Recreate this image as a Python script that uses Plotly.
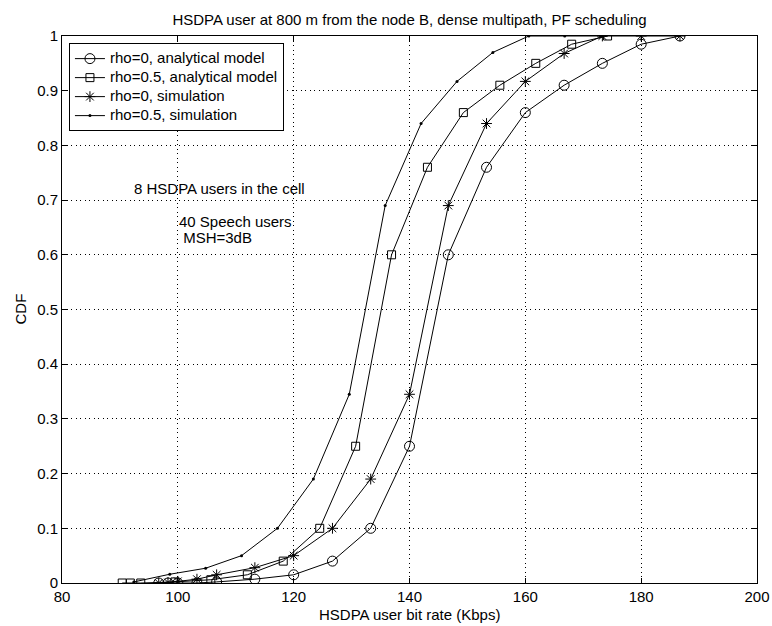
import plotly.graph_objects as go

title_text = "HSDPA user at 800 m from the node B, dense multipath, PF scheduling"
x_title = "HSDPA user bit rate (Kbps)"
y_title = "CDF"

# rho=0, analytical model (circles)
x_an0 = [96.7, 98.3, 100.0, 103.3, 106.7, 113.3, 120.0, 126.7, 133.3, 140.0, 146.7, 153.3, 160.0, 166.7, 173.3, 180.0, 186.7]
y_an0 = [0.0, 0.0, 0.0, 0.0, 0.002, 0.007, 0.015, 0.04, 0.10, 0.25, 0.60, 0.76, 0.86, 0.91, 0.95, 0.985, 1.0]

# rho=0.5, analytical model (squares)
x_an5 = [90.4, 91.8, 93.6, 99.5, 105.7, 112.0, 118.2, 124.5, 130.7, 136.9, 143.1, 149.3, 155.6, 161.8, 168.0, 174.2]
y_an5 = [0.0, 0.0, 0.0, 0.002, 0.006, 0.015, 0.04, 0.10, 0.25, 0.60, 0.76, 0.86, 0.91, 0.95, 0.985, 1.0]

# rho=0, simulation (asterisks)
x_sim0 = [96.7, 98.3, 100.0, 103.3, 106.7, 113.3, 120.0, 126.7, 133.3, 140.0, 146.7, 153.3, 160.0, 166.7, 173.3, 180.0, 186.7]
y_sim0 = [0.0, 0.001, 0.003, 0.007, 0.015, 0.028, 0.05, 0.10, 0.19, 0.345, 0.69, 0.84, 0.917, 0.968, 1.0, 1.0, 1.0]

# rho=0.5, simulation (dots)
x_sim5 = [92.4, 98.6, 104.8, 111.0, 117.2, 123.4, 129.6, 135.8, 142.0, 148.2, 154.4, 160.6, 166.8, 173.0]
y_sim5 = [0.002, 0.016, 0.027, 0.05, 0.10, 0.19, 0.345, 0.69, 0.84, 0.917, 0.97, 1.0, 1.0, 1.0]

names = ["rho=0, analytical model", "rho=0.5, analytical model", "rho=0, simulation", "rho=0.5, simulation"]

notes = ["8 HSDPA users in the cell", "40 Speech users", " MSH=3dB"]
note_x = [92.1, 99.8, 99.8]
note_y = [0.722, 0.66, 0.631]

FONT = "Liberation Sans, Arial, Helvetica, sans-serif"
FS = 15

fig = go.Figure()
line = dict(color="black", width=1)
markers = [
    dict(symbol="circle-open", size=10, color="black", line=dict(width=1, color="black")),
    dict(symbol="square-open", size=8, color="black", line=dict(width=1, color="black")),
    dict(symbol="asterisk-open", size=9, color="black", line=dict(width=1, color="black")),
    dict(symbol="circle", size=3, color="black"),
]
series = [(x_an0, y_an0), (x_an5, y_an5), (x_sim0, y_sim0), (x_sim5, y_sim5)]
for (xs, ys), nm, mk in zip(series, names, markers):
    fig.add_trace(go.Scatter(
        x=xs, y=ys, mode="lines+markers", line=line, marker=mk,
        name='<span style="font-size:%dpx">%s</span>' % (FS, nm)))

for t, xx, yy in zip(notes, note_x, note_y):
    fig.add_annotation(text=t, x=xx, y=yy, xref="x", yref="y", xanchor="left", yanchor="middle",
                       showarrow=False, font=dict(family=FONT, size=FS, color="black"))

# axis titles placed as text under / left of the frame
fig.add_annotation(text=x_title, x=0.5, y=-(614 - 583) / 547, xref="paper", yref="paper",
                   xanchor="center", yanchor="middle", showarrow=False,
                   font=dict(family=FONT, size=FS, color="black"))
fig.add_annotation(text=y_title, x=(20 - 62) / 695, y=0.5, xref="paper", yref="paper",
                   xanchor="center", yanchor="middle", textangle=-90, showarrow=False,
                   font=dict(family=FONT, size=FS, color="black"))

axis_common = dict(
    showline=True, linecolor="black", linewidth=1, mirror="ticks",
    ticks="inside", ticklen=5, tickcolor="black", tickwidth=1,
    showgrid=True, gridcolor="black", gridwidth=1, griddash="1px,3.5px",
    zeroline=False, automargin=False,
    tickfont=dict(family=FONT, size=FS, color="black"),
)

fig.update_xaxes(range=[80, 200], dtick=20, tick0=80, **axis_common)
fig.update_yaxes(range=[0, 1], dtick=0.1, tick0=0, **axis_common)

fig.update_layout(
    template="none",
    width=772, height=626,
    margin=dict(l=62, r=15, t=36, b=43),
    paper_bgcolor="white", plot_bgcolor="white",
    font=dict(family=FONT, size=FS, color="black"),
    title=dict(text=title_text, x=0.5, xref="paper", xanchor="center",
               y=1 - 20 / 626, yanchor="middle", font=dict(family=FONT, size=FS, color="black")),
    legend=dict(x=0.01, y=0.987, xanchor="left", yanchor="top", bgcolor="white",
                bordercolor="black", borderwidth=1, font=dict(family=FONT, size=11, color="black"),
                tracegroupgap=0, itemwidth=30),
    showlegend=True,
)

fig.write_html("out.html", config={"displayModeBar": False},
               post_script="document.body.style.margin='0';document.body.style.padding='0';")
